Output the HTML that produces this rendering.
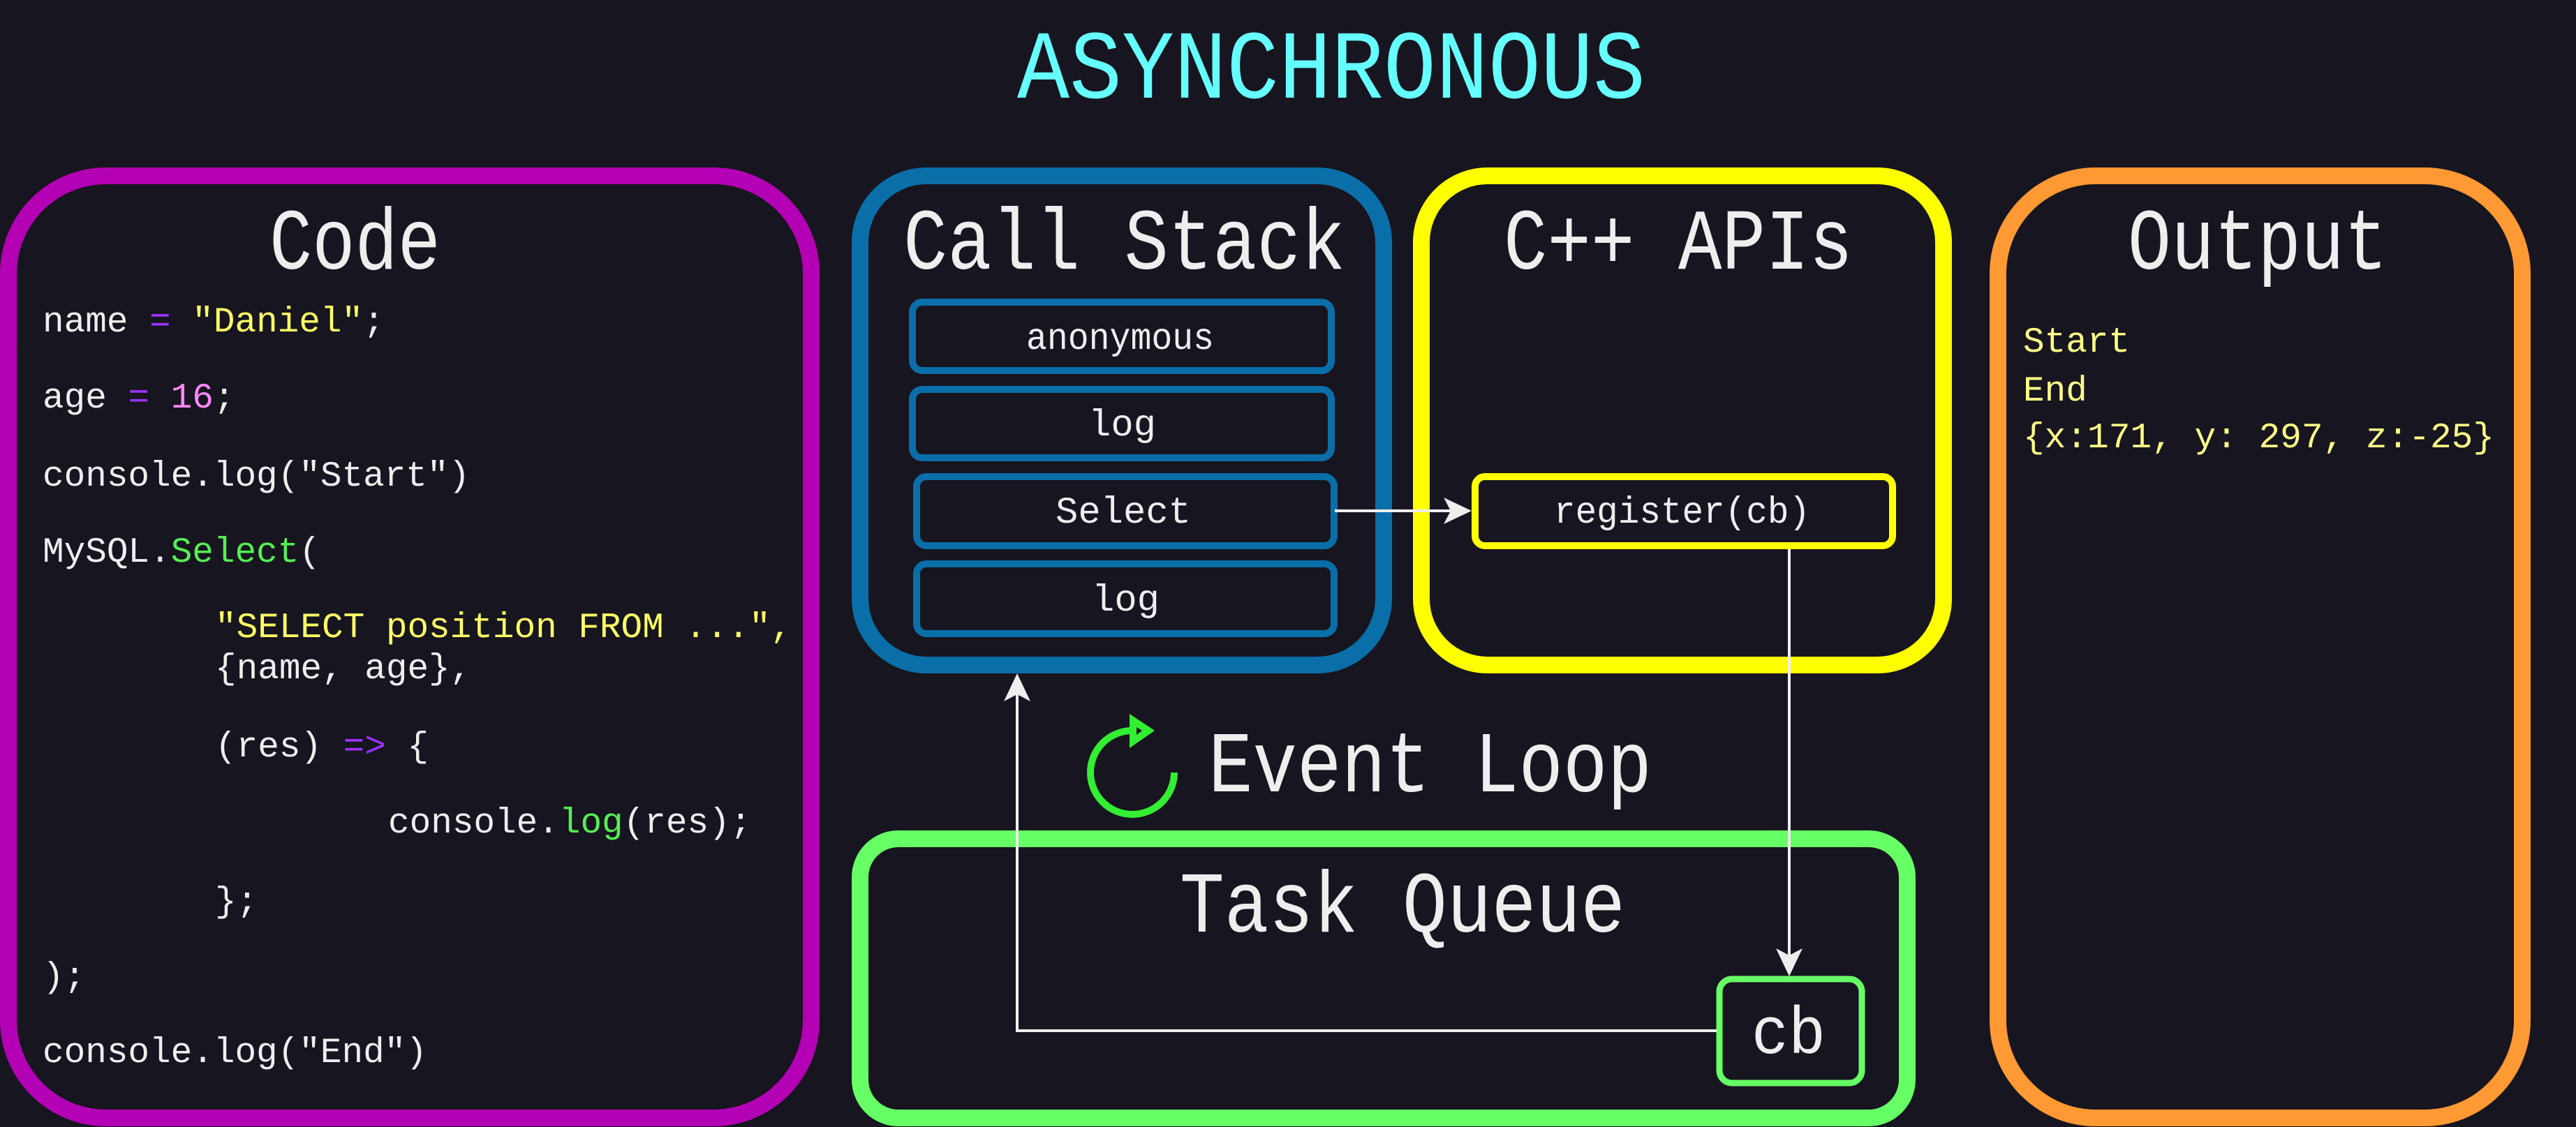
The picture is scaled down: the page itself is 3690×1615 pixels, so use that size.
<!DOCTYPE html>
<html><head><meta charset="utf-8"><style>
html,body{margin:0;padding:0;background:#17151f;}
svg{display:block}
text{font-family:"Liberation Mono","DejaVu Sans Mono",monospace;}
</style></head><body>
<svg width="3690" height="1615" viewBox="0 0 3690 1615" xmlns="http://www.w3.org/2000/svg">
<rect width="3690" height="1615" fill="#17151f"/>
<text x="1907" y="140" font-size="140" fill="#66ffff" text-anchor="middle" textLength="900" lengthAdjust="spacingAndGlyphs">ASYNCHRONOUS</text>

<!-- big boxes -->
<rect x="12" y="252" width="1150" height="1350" rx="140" fill="none" stroke="#b400b4" stroke-width="24"/>
<rect x="1232" y="252" width="750" height="701" rx="95" fill="none" stroke="#0a6ea8" stroke-width="24"/>
<rect x="2036" y="252" width="748" height="701" rx="95" fill="none" stroke="#ffff00" stroke-width="24"/>
<rect x="2862" y="252" width="751" height="1350" rx="140" fill="none" stroke="#ff9933" stroke-width="24"/>
<rect x="1232" y="1202" width="1500" height="400" rx="55" fill="none" stroke="#66ff66" stroke-width="24"/>

<!-- titles -->
<g fill="#eeeeee" font-size="124">
<text x="386" y="385" textLength="245" lengthAdjust="spacingAndGlyphs">Code</text>
<text x="1294" y="385" textLength="633" lengthAdjust="spacingAndGlyphs">Call Stack</text>
<text x="2154" y="385" textLength="500" lengthAdjust="spacingAndGlyphs">C++ APIs</text>
<text x="3048" y="385" textLength="372" lengthAdjust="spacingAndGlyphs">Output</text>
<text x="1731" y="1134" textLength="635" lengthAdjust="spacingAndGlyphs">Event Loop</text>
<text x="1690" y="1335" textLength="638" lengthAdjust="spacingAndGlyphs">Task Queue</text>
</g>

<!-- stack frames -->
<g fill="none" stroke="#0a6ea8" stroke-width="10">
<rect x="1307" y="433" width="600" height="98" rx="14"/>
<rect x="1307" y="558" width="600" height="98" rx="14"/>
<rect x="1313" y="683" width="598" height="99" rx="14"/>
<rect x="1313" y="808" width="598" height="100" rx="14"/>
</g>
<g fill="#eeeeee" font-size="54">
<text x="1470" y="500" textLength="269" lengthAdjust="spacingAndGlyphs">anonymous</text>
<text x="1559" y="624" textLength="97" lengthAdjust="spacingAndGlyphs">log</text>
<text x="1512" y="749" textLength="194" lengthAdjust="spacingAndGlyphs">Select</text>
<text x="1564" y="875" textLength="97" lengthAdjust="spacingAndGlyphs">log</text>
<text x="2226" y="749" textLength="367" lengthAdjust="spacingAndGlyphs">register(cb)</text>
</g>
<rect x="2113" y="683" width="598" height="99" rx="14" fill="none" stroke="#ffff00" stroke-width="10"/>
<rect x="2463" y="1403" width="204" height="149" rx="18" fill="none" stroke="#66ff66" stroke-width="9"/>
<text x="2509" y="1509" font-size="96" fill="#eeeeee" textLength="106" lengthAdjust="spacingAndGlyphs">cb</text>

<!-- connectors -->
<g stroke="#eeeeee" stroke-width="4" fill="none">
<path d="M1912 732 H2080"/>
<path d="M2563 787 V1370"/>
<path d="M2459 1477 H1457 V995"/>
</g>
<g fill="#eeeeee">
<path d="M2108 732 L2068 713 L2078 732 L2068 751 Z"/>
<path d="M2563 1399 L2544 1359 L2563 1369 L2582 1359 Z"/>
<path d="M1457 965 L1438 1005 L1457 995 L1476 1005 Z"/>
</g>

<!-- event loop icon -->
<path d="M1622 1047 A60 60 0 1 0 1682 1107" fill="none" stroke="#33ee33" stroke-width="10"/>
<polygon points="1618,1023 1618,1072 1654,1047" fill="#33ee33"/>
<polygon points="1628,1042 1628,1053 1636,1047" fill="#17151f"/>

<!-- code -->
<g font-size="51" fill="#eeeeee" xml:space="preserve">
<text x="61" y="475">name <tspan fill="#9933ff">=</tspan> <tspan fill="#ffff66">"Daniel"</tspan>;</text>
<text x="61" y="584">age <tspan fill="#9933ff">=</tspan> <tspan fill="#ff88ff">16</tspan>;</text>
<text x="61" y="696">console.log("Start")</text>
<text x="61" y="805">MySQL.<tspan fill="#55ee55">Select</tspan>(</text>
<text x="308" y="913" fill="#ffff66">"SELECT position FROM ...",</text>
<text x="308" y="972">{name, age},</text>
<text x="308" y="1084">(res) <tspan fill="#9933ff">=&gt;</tspan> {</text>
<text x="556" y="1193">console.<tspan fill="#55ee55">log</tspan>(res);</text>
<text x="308" y="1306">};</text>
<text x="61" y="1414">);</text>
<text x="61" y="1522">console.log("End")</text>
</g>

<!-- output -->
<g font-size="51" fill="#ffff88" xml:space="preserve">
<text x="2898" y="504">Start</text>
<text x="2898" y="574">End</text>
<text x="2898" y="641" textLength="675" lengthAdjust="spacingAndGlyphs">{x:171, y: 297, z:-25}</text>
</g>
</svg>
</body></html>
